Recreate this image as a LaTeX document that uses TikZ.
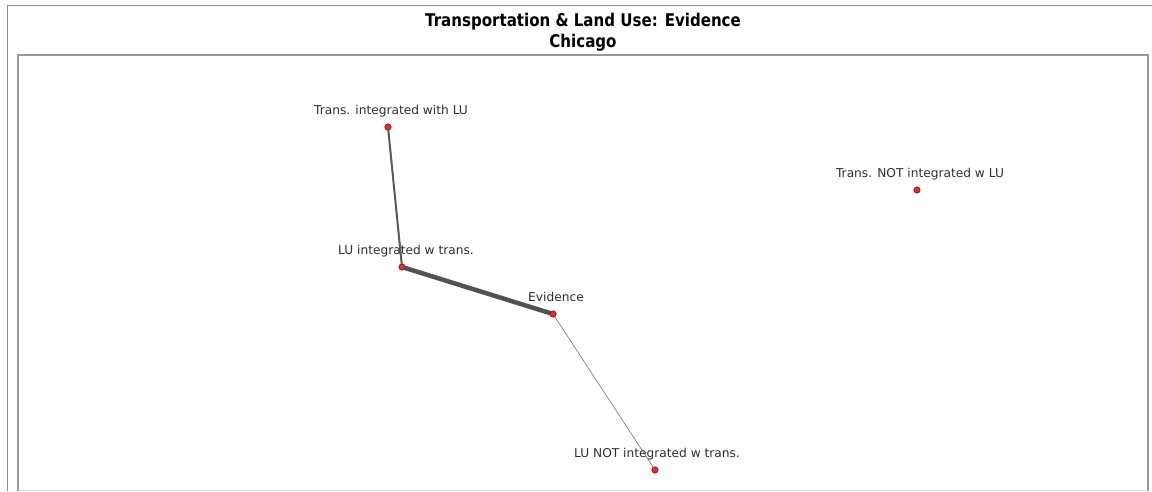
\documentclass[tikz,border=0pt]{standalone}
\usepackage{fontspec}
\setmainfont{DejaVu Sans}
\newfontfamily\titlefont[FakeStretch=0.86]{DejaVu Sans}
\definecolor{vfill}{RGB}{222,48,45}
\definecolor{vline}{RGB}{150,20,20}
\begin{document}
\begin{tikzpicture}[x=1pt,y=-1pt,
  vertex/.style={circle,fill=vfill,draw=vline,line width=0.5pt,inner sep=0pt,minimum size=6.2pt},
  vlabel/.style={font=\fontsize{12.2}{14}\selectfont,text=black!82,inner sep=0pt,anchor=base},
  heading/.style={font=\titlefont\bfseries\fontsize{17.5}{20}\selectfont,anchor=base},
  tie/.style={draw=black!65,line cap=round},
  framepen/.style={draw=black!45,line width=1pt}]
\useasboundingbox (0,0) rectangle (1152,491);
% outer panel
\draw[framepen] (7.5,491) -- (7.5,5.5) -- (1152,5.5);
% plot area
\draw[draw=black!40,line width=2pt] (18,491) -- (18,55) -- (1148,55) -- (1148,491);
\draw[draw=black!12,line width=0.8pt] (19,490) -- (1147,490);
% title
\node[heading] (title) at (583,26.5) {Transportation \& Land Use: Evidence};
\node[heading] (city) at (583,47.5) {Chicago};
% vertex positions
\node[vertex] (tiw) at (388,127) {};
\node[vertex] (liw) at (402,267) {};
\node[vertex] (ev) at (553,314) {};
\node[vertex] (lni) at (655,470) {};
\node[vertex] (tni) at (917,190) {};
% ties, width by strength
\draw[tie,line width=2pt] (tiw) -- (liw);
\draw[tie,line width=4.5pt,draw=black!68] (liw) -- (ev);
\draw[tie,line width=0.7pt,draw=black!50] (ev) -- (lni);
% vertices drawn over ties
\foreach \v in {tiw,liw,ev,lni,tni}
  \node[vertex] at (\v) {};
% labels
\node[vlabel] (ltiw) at (391,114) {Trans. integrated with LU};
\node[vlabel] (lliw) at (406,254) {LU integrated w trans.};
\node[vlabel] (lev) at (556,301) {Evidence};
\node[vlabel] (llni) at (657,457) {LU NOT integrated w trans.};
\node[vlabel] (ltni) at (920,177) {Trans. NOT integrated w LU};
\end{tikzpicture}
\end{document}
